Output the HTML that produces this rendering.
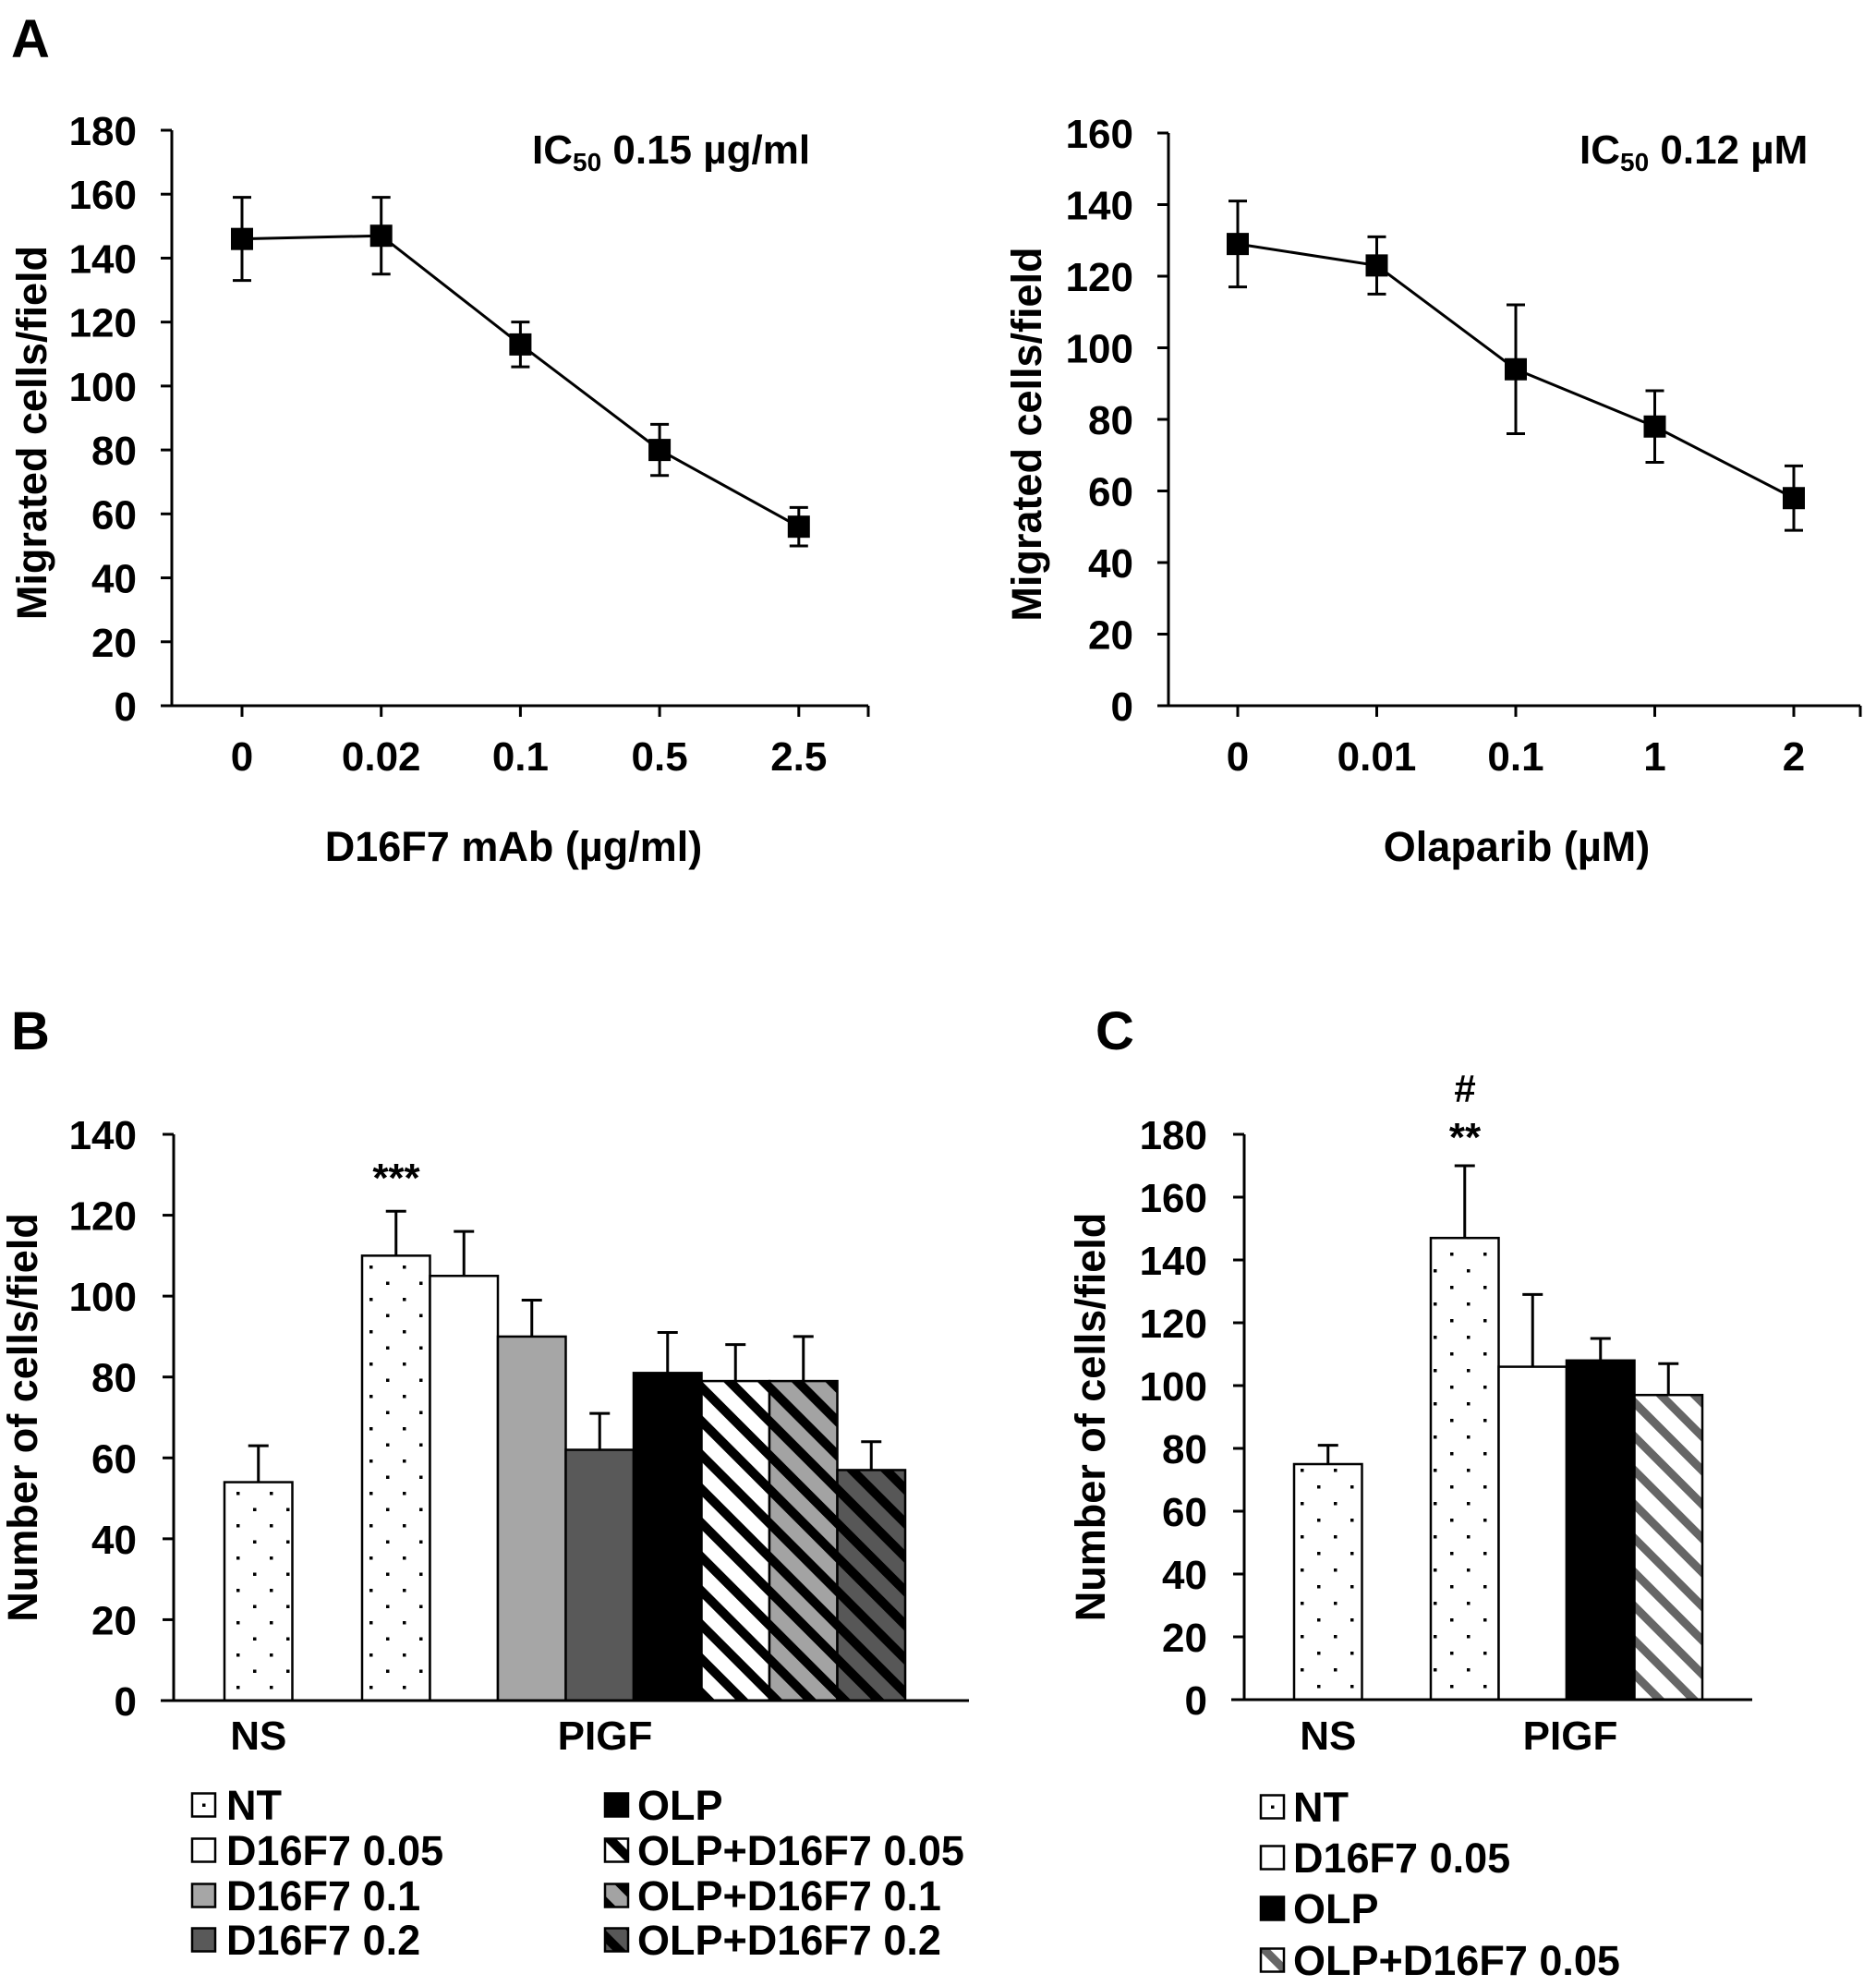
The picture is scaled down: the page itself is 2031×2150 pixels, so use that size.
<!DOCTYPE html>
<html><head><meta charset="utf-8"><style>
html,body{margin:0;padding:0;background:#fff;}
svg{display:block;font-family:"Liberation Sans",Arial,sans-serif;font-weight:bold;}
</style></head><body>
<svg id="fig" width="2031" height="2150" viewBox="0 0 2031 2150" xmlns="http://www.w3.org/2000/svg">
<defs>
<pattern id="dots" patternUnits="userSpaceOnUse" width="36" height="35"><rect width="36" height="35" fill="#fff"/><rect x="4" y="5" width="3.5" height="3.5" fill="#000"/><rect x="22" y="22.5" width="3.5" height="3.5" fill="#000"/></pattern>
<pattern id="dotsC" patternUnits="userSpaceOnUse" width="36" height="36"><rect width="36" height="36" fill="#fff"/><rect x="4" y="6" width="3.5" height="3.5" fill="#000"/><rect x="22" y="24" width="3.5" height="3.5" fill="#000"/></pattern>
<pattern id="hWhite" patternUnits="userSpaceOnUse" width="26" height="26" patternTransform="rotate(45)"><rect width="26" height="26" fill="#fff"/><rect width="26" height="10" fill="#000"/></pattern>
<pattern id="hLight" patternUnits="userSpaceOnUse" width="26" height="26" patternTransform="rotate(45)"><rect width="26" height="26" fill="#a3a3a3"/><rect width="26" height="10" fill="#000"/></pattern>
<pattern id="hDark" patternUnits="userSpaceOnUse" width="26" height="26" patternTransform="rotate(45)"><rect width="26" height="26" fill="#575757"/><rect width="26" height="10" fill="#000"/></pattern>
<pattern id="hGrayC" patternUnits="userSpaceOnUse" width="26" height="26" patternTransform="rotate(45)"><rect width="26" height="26" fill="#fff"/><rect width="26" height="9" fill="#666"/></pattern>
</defs>
<g id="root"></g>
</svg>
<script>
// ---- Panel A1 data ----
const a1Cats = ["0","0.02","0.1","0.5","2.5"];
const a1Vals = [146,147,113,80,56];
const a1Errs = [13,12,7,8,6];
const a1Ticks = [0,20,40,60,80,100,120,140,160,180];
// ---- Panel A2 data ----
const a2Cats = ["0","0.01","0.1","1","2"];
const a2Vals = [129,123,94,78,58];
const a2Errs = [12,8,18,10,9];
const a2Ticks = [0,20,40,60,80,100,120,140,160];
// ---- Panel B data ----
const bGroups = ["NS","PIGF"];
const bLabels = ["NT","NT","D16F7 0.05","D16F7 0.1","D16F7 0.2","OLP","OLP+D16F7 0.05","OLP+D16F7 0.1","OLP+D16F7 0.2"];
const bVals = [54,110,105,90,62,81,79,79,57];
const bErrs = [9,11,11,9,9,10,9,11,7];
const bTicks = [0,20,40,60,80,100,120,140];
// ---- Panel C data ----
const cLabels = ["NT","NT","D16F7 0.05","OLP","OLP+D16F7 0.05"];
const cVals = [75,147,106,108,97];
const cErrs = [6,23,23,7,10];
const cTicks = [0,20,40,60,80,100,120,140,160,180];

const NS="http://www.w3.org/2000/svg";
const root=document.getElementById('root');
function el(tag,attrs,parent,txt){const e=document.createElementNS(NS,tag);for(const k in attrs)e.setAttribute(k,attrs[k]);if(txt!==undefined)e.textContent=txt;(parent||root).appendChild(e);return e;}

function text(x,y,s,size,anchor,parent,name){
  const t=el('text',{x:x,y:y,'font-size':size,'text-anchor':anchor||'middle',fill:'#000'},parent,s);
  
  
  return t;
}

text(12,62,"A",58,'start',root,'panel-a-label');
text(12,1136,"B",58,'start',root,'panel-b-label');
text(1186,1136,"C",58,'start',root,'panel-c-label');

function lineChart(o){
  const g=el('g',{});
  
  
  const y=v=>o.y0-(v-o.ymin)*(o.y0-o.ytop)/(o.ymax-o.ymin);
  const x=i=>o.x0+i*o.step;
  const ax=el('path',{d:`M${o.axX},${o.ytop} V${o.y0} M${o.axX},${o.y0} H${o.axEnd}`,stroke:'#000','stroke-width':3,fill:'none'},g);
  
  
  o.ticks.forEach(t=>{
    el('line',{x1:o.axX-12,x2:o.axX,y1:y(t),y2:y(t),stroke:'#000','stroke-width':3},g);
    text(o.axX-38,y(t)+16,String(t),44,'end',g,'y-tick-label');
  });
  o.cats.forEach((c,i)=>{
    el('line',{x1:x(i),x2:x(i),y1:o.y0,y2:o.y0+12,stroke:'#000','stroke-width':3},g);
    text(x(i),o.y0+70,c,44,'middle',g,'x-tick-label');
  });
  el('line',{x1:o.axEnd,x2:o.axEnd,y1:o.y0,y2:o.y0+12,stroke:'#000','stroke-width':3},g);
  text(o.xTitleX,o.y0+168,o.xTitle,45,'middle',g,'x-axis-title');
  const yt=text(0,0,"Migrated cells/field",45,'middle',g,'y-axis-title');
  yt.setAttribute('transform',`translate(${o.yTitleX+16},${(o.ytop+o.y0)/2+16}) rotate(-90)`);
  const ic=el('text',{x:o.icX,y:177,'font-size':44,fill:'#000'},g);
  
  
  el('tspan',{},ic,"IC");
  el('tspan',{'font-size':28,dy:8},ic,"50");
  el('tspan',{dy:-8},ic," "+o.icText);
  const pts=o.vals.map((v,i)=>x(i)+","+y(v)).join(" ");
  const pl=el('polyline',{points:pts,fill:'none',stroke:'#000','stroke-width':3},g);
  
  
  o.vals.forEach((v,i)=>{
    const e=o.errs[i];
    const eb=el('path',{d:`M${x(i)},${y(v+e)} V${y(v-e)} M${x(i)-10},${y(v+e)} H${x(i)+10} M${x(i)-10},${y(v-e)} H${x(i)+10}`,stroke:'#000','stroke-width':3,fill:'none'},g);
    
    
    const m=el('rect',{x:x(i)-12,y:y(v)-12,width:24,height:24,fill:'#000'},g);
    
    
  });
}
lineChart({name:'chart-a-d16f7',cats:a1Cats,vals:a1Vals,errs:a1Errs,ticks:a1Ticks,ymin:0,ymax:180,y0:764,ytop:141,axX:186,axEnd:940,x0:262,step:150.7,xTitle:"D16F7 mAb (µg/ml)",xTitleX:556,yTitleX:34,icX:576,icText:"0.15 µg/ml"});
lineChart({name:'chart-a-olaparib',cats:a2Cats,vals:a2Vals,errs:a2Errs,ticks:a2Ticks,ymin:0,ymax:160,y0:764,ytop:144,axX:1265,axEnd:2014,x0:1340,step:150.5,xTitle:"Olaparib (µM)",xTitleX:1642,yTitleX:1111,icX:1710,icText:"0.12 µM"});

const bFills=['url(#dots)','url(#dots)','#fff','#a6a6a6','#595959','#000','url(#hWhite)','url(#hLight)','url(#hDark)'];
const cFills=['url(#dotsC)','url(#dotsC)','#fff','#000','url(#hGrayC)'];

function barChart(o){
  const g=el('g',{});
  
  
  const y=v=>o.y0-v*(o.y0-o.ytop)/o.ymax;
  o.vals.forEach((v,i)=>{
    const bx=i===0?o.nsX:o.pX+(i-1)*o.bw;
    const r=el('rect',{x:bx,y:y(v),width:o.bw,height:o.y0-y(v),fill:o.fills[i],stroke:'#000','stroke-width':2.5},g);
    
    
    const cx=bx+o.bw/2, e=o.errs[i];
    const eb=el('path',{d:`M${cx},${y(v)} V${y(v+e)} M${cx-11},${y(v+e)} H${cx+11}`,stroke:'#000','stroke-width':3,fill:'none'},g);
    
    
  });
  const ax=el('path',{d:`M${o.axX},${o.ytop} V${o.y0} M${o.axX-14},${o.y0} H${o.axEnd}`,stroke:'#000','stroke-width':3,fill:'none'},g);
  
  
  o.ticks.forEach(t=>{
    el('line',{x1:o.axX-12,x2:o.axX,y1:y(t),y2:y(t),stroke:'#000','stroke-width':3},g);
    text(o.axX-40,y(t)+16,String(t),44,'end',g,'y-tick-label');
  });
  const yt=text(0,0,"Number of cells/field",45,'middle',g,'y-axis-title');
  yt.setAttribute('transform',`translate(${o.yTitleX+16},${(o.ytop+o.y0)/2}) rotate(-90)`);
  text(o.nsX+o.bw/2,1894,bGroups[0],44,'middle',g,'group-label-ns');
  text(o.pigfX,1894,bGroups[1],44,'middle',g,'group-label-pigf');
}
barChart({name:'chart-b',vals:bVals,errs:bErrs,labels:bLabels,fills:bFills,ticks:bTicks,ymax:140,y0:1841,ytop:1228,axX:188,axEnd:1049,nsX:243,pX:392,bw:73.5,yTitleX:24,pigfX:655});
barChart({name:'chart-c',vals:cVals,errs:cErrs,labels:cLabels,fills:cFills,ticks:cTicks,ymax:180,y0:1840,ytop:1228,axX:1347,axEnd:1897,nsX:1401,pX:1549,bw:73.5,yTitleX:1180,pigfX:1700});

text(429,1290,"***",44,'middle',root,'significance-b');
text(1586,1193,"#",42,'middle',root,'significance-hash-c');
text(1586,1246,"**",44,'middle',root,'significance-stars-c');

function legend(x,tx,ys,labels,fills,name){
  labels.forEach((l,i)=>{
    const g=el('g',{});
    
    
    const dotted=fills[i]==='url(#dots)'||fills[i]==='url(#dotsC)';
    el('rect',{x:x,y:ys[i]-12.5,width:25,height:25,fill:dotted?'#fff':fills[i],stroke:'#000','stroke-width':2.5},g);
    if(dotted) el('rect',{x:x+11,y:ys[i]-1.5,width:3.5,height:3.5,fill:'#000'},g);
    text(tx,ys[i]+16,l,45,'start',g,'legend-label');
  });
}
legend(208,245,[1954,2003,2052,2100],bLabels.slice(1,5),bFills.slice(1,5),'legend-b');
legend(655,690,[1954,2003,2052,2100],bLabels.slice(5),bFills.slice(5),'legend-b');
legend(1365,1400,[1956,2011,2066,2122],cLabels.slice(1),cFills.slice(1),'legend-c');
</script>
</body></html>
